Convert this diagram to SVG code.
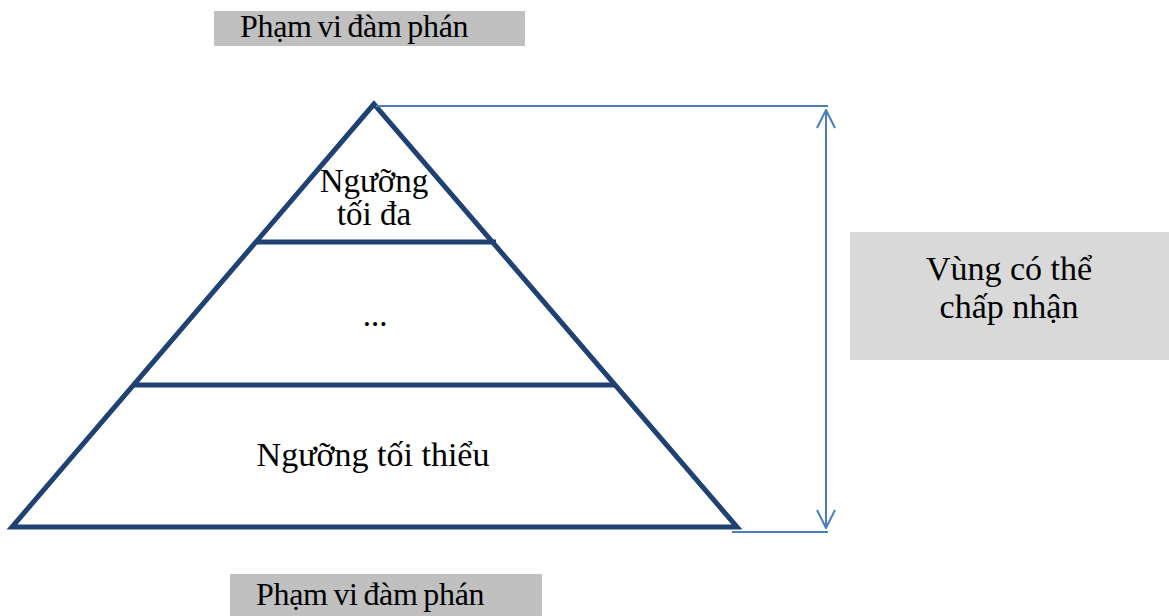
<svg xmlns="http://www.w3.org/2000/svg" width="1169" height="616" viewBox="0 0 1169 616">
<defs>
<style>
.t{font-family:"Liberation Serif","Times New Roman",serif;fill:#000}
.lbl{font-size:32px;letter-spacing:-0.3px;word-spacing:-2px}
.pyr{fill:none;stroke:#1f4272;stroke-width:5;stroke-linejoin:miter}
.bar{stroke:#1f4272;stroke-width:5}
.dim{stroke:#4a7ebb;stroke-width:2;fill:none}
</style>
<marker id="ah" viewBox="0 0 20 20" refX="19" refY="10" markerWidth="20" markerHeight="20" markerUnits="userSpaceOnUse" orient="auto-start-reverse">
<path d="M1,1 L19,10 L1,19" fill="none" stroke="#4a7ebb" stroke-width="2"/>
</marker>
</defs>
<rect width="1169" height="616" fill="#fff"/>
<g id="label-top">
<rect x="214" y="11" width="311" height="35" fill="#c0c0c0"/>
<text class="t lbl" x="240" y="37">Phạm vi đàm phán</text>
</g>
<g id="label-bottom">
<rect x="230" y="574" width="312" height="42" fill="#c0c0c0"/>
<text class="t lbl" x="256" y="605">Phạm vi đàm phán</text>
</g>
<g id="pyramid">
<polygon class="pyr" points="374,104 12,527 737,527"/>
</g>
<g id="tier-top">
<line class="bar" x1="255" y1="242" x2="496" y2="242"/>
<text class="t" x="374" y="192" font-size="33" text-anchor="middle">Ngưỡng</text>
<text class="t" x="374" y="225" font-size="33" text-anchor="middle">tối đa</text>
</g>
<g id="tier-mid">
<line class="bar" x1="133" y1="385" x2="614" y2="385"/>
<text class="t" x="375" y="326" font-size="33" text-anchor="middle">...</text>
</g>
<g id="tier-bottom">
<text class="t" x="373" y="466" font-size="34" text-anchor="middle">Ngưỡng tối thiểu</text>
</g>
<g id="acceptable-zone">
<rect x="850" y="232" width="319" height="128" fill="#d9d9d9"/>
<text class="t" x="1009" y="280" font-size="34" text-anchor="middle">Vùng có thể</text>
<text class="t" x="1009" y="318" font-size="34" text-anchor="middle">chấp nhận</text>
</g>
<g id="connectors">
<line class="dim" x1="376" y1="106" x2="828" y2="106"/>
<line class="dim" x1="732" y1="532" x2="828" y2="532"/>
<line class="dim" x1="826" y1="110" x2="826" y2="528" marker-start="url(#ah)" marker-end="url(#ah)"/>
</g>
</svg>
